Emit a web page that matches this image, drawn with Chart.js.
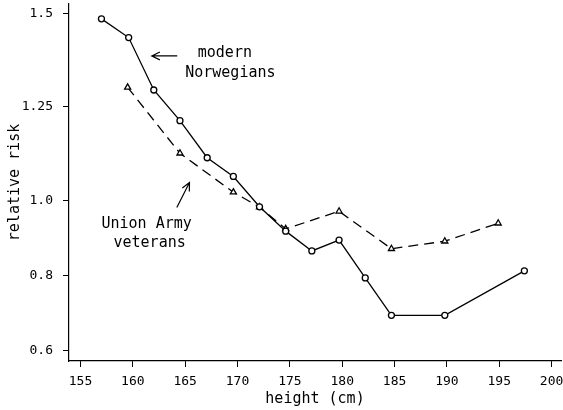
<!DOCTYPE html>
<html>
<head>
<meta charset="utf-8">
<style>
  html, body { margin: 0; padding: 0; background: #fff; }
  #wrap { width: 563px; height: 410px; position: relative; }
</style>
<script src="https://cdn.jsdelivr.net/npm/chart.js@4"></script>
</head>
<body>
<div id="wrap"><canvas id="riskChart"></canvas></div>
<script>
// heights (cm) and relative risk
const norwegianHeights = [157.0, 159.6, 162.0, 164.5, 167.1, 169.6, 172.1, 174.6, 177.1, 179.7, 182.2, 184.7, 189.8, 197.4];
const norwegianRisk    = [1.485, 1.435, 1.295, 1.213, 1.114, 1.064, 0.983, 0.918, 0.865, 0.894, 0.793, 0.693, 0.693, 0.812];

const unionHeights = [159.5, 164.5, 169.6, 172.1, 174.6, 179.7, 184.7, 189.8, 194.9];
const unionRisk    = [1.302, 1.126, 1.022, 0.982, 0.924, 0.971, 0.871, 0.891, 0.939];

const xTicks = [155, 160, 165, 170, 175, 180, 185, 190, 195, 200];
const yTicks = [0.6, 0.8, 1.0, 1.25, 1.5];
const yTickLabels = ['0.6', '0.8', '1.0', '1.25', '1.5'];

const FONT = "'DejaVu Sans Mono', monospace";

function pts(xs, ys) {
    return xs.map((x, i) => ({ x: x, y: ys[i] }));
}

// text labels + arrows, positioned in data units
const notes = [
    { text: 'modern', x: 166.2, y: 1.383 },
    { text: 'Norwegians', x: 165.0, y: 1.330 },
    { text: 'Union Army', x: 157.0, y: 0.927 },
    { text: 'veterans', x: 158.15, y: 0.875 }
];
const arrows = [
    { from: [164.24, 1.386], to: [161.81, 1.386] },
    { from: [164.2, 0.981], to: [165.41, 1.048] }
];

const annotatePlugin = {
    id: 'annotate',
    afterDraw(chart) {
        const ctx = chart.ctx;
        const xs = chart.scales.x, ys = chart.scales.y;
        ctx.save();
        ctx.fillStyle = '#000';
        ctx.strokeStyle = '#000';
        ctx.lineWidth = 1.2;
        ctx.font = '15px ' + FONT;
        ctx.textBaseline = 'alphabetic';
        ctx.textAlign = 'left';
        notes.forEach(n => {
            ctx.fillText(n.text, xs.getPixelForValue(n.x), ys.getPixelForValue(n.y));
        });
        arrows.forEach(a => {
            const x1 = xs.getPixelForValue(a.from[0]), y1 = ys.getPixelForValue(a.from[1]);
            const x2 = xs.getPixelForValue(a.to[0]), y2 = ys.getPixelForValue(a.to[1]);
            const ang = Math.atan2(y2 - y1, x2 - x1);
            const head = 9;
            ctx.beginPath();
            ctx.moveTo(x1, y1);
            ctx.lineTo(x2, y2);
            ctx.moveTo(x2 - head * Math.cos(ang - 0.45), y2 - head * Math.sin(ang - 0.45));
            ctx.lineTo(x2, y2);
            ctx.lineTo(x2 - head * Math.cos(ang + 0.45), y2 - head * Math.sin(ang + 0.45));
            ctx.stroke();
        });
        ctx.restore();
    }
};

new Chart(document.getElementById('riskChart').getContext('2d'), {
    type: 'line',
    data: {
        datasets: [{
            label: 'modern Norwegians',
            data: pts(norwegianHeights, norwegianRisk),
            borderColor: '#000',
            borderWidth: 1.3,
            pointStyle: 'circle',
            pointRadius: 3,
            pointBackgroundColor: '#fff',
            pointBorderColor: '#000',
            pointBorderWidth: 1.3,
            tension: 0
        }, {
            label: 'Union Army veterans',
            data: pts(unionHeights, unionRisk),
            borderColor: '#000',
            borderWidth: 1.3,
            borderDash: [10, 6],
            pointStyle: 'triangle',
            pointRadius: 3.5,
            pointBackgroundColor: '#fff',
            pointBorderColor: '#000',
            pointBorderWidth: 1.3,
            tension: 0
        }]
    },
    options: {
        responsive: true,
        maintainAspectRatio: false,
        animation: false,
        layout: { autoPadding: false, padding: { top: 4, right: 2, left: 0, bottom: 0 } },
        plugins: {
            legend: { display: false },
            tooltip: { enabled: false }
        },
        scales: {
            x: {
                type: 'linear',
                min: 153.9,
                max: 200.9,
                afterBuildTicks: axis => { axis.ticks = xTicks.map(v => ({ value: v })); },
                afterFit: axis => {
                    axis.height = 49;
                    axis.paddingLeft = 0;
                    axis.paddingRight = 0;
                },
                grid: { drawOnChartArea: false, drawTicks: true, tickLength: 6, color: '#000' },
                border: { display: true, color: '#000', width: 1.2 },
                ticks: {
                    color: '#000',
                    padding: 7,
                    maxRotation: 0,
                    font: { family: FONT, size: 13 },
                    callback: v => String(v)
                },
                title: {
                    display: true,
                    text: 'height (cm)',
                    color: '#000',
                    font: { family: FONT, size: 15 },
                    padding: { top: 0, bottom: 2 }
                }
            },
            y: {
                type: 'linear',
                min: 0.5711,
                max: 1.5247,
                afterBuildTicks: axis => { axis.ticks = yTicks.map(v => ({ value: v })); },
                afterFit: axis => {
                    axis.width = 69;
                    axis.paddingTop = 0;
                    axis.paddingBottom = 0;
                },
                grid: { drawOnChartArea: false, drawTicks: true, tickLength: 6, color: '#000' },
                border: { display: true, color: '#000', width: 1.2 },
                ticks: {
                    color: '#000',
                    padding: 10,
                    font: { family: FONT, size: 13 },
                    callback: v => yTickLabels[yTicks.indexOf(v)] ?? ''
                },
                title: {
                    display: true,
                    text: 'relative risk',
                    color: '#000',
                    font: { family: FONT, size: 15 },
                    padding: { top: 6, bottom: 0 }
                }
            }
        }
    },
    plugins: [annotatePlugin]
});
</script>
</body>
</html>
